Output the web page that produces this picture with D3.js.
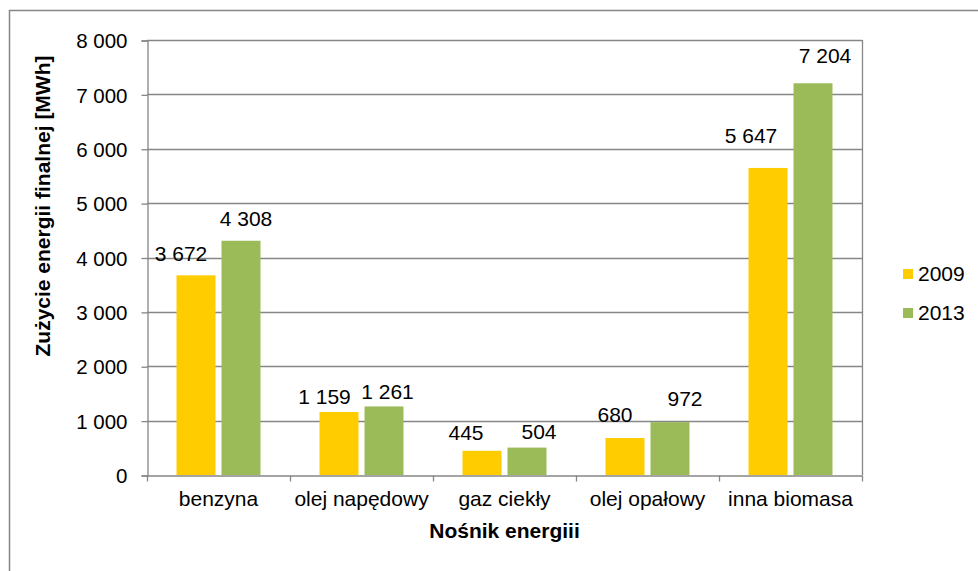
<!DOCTYPE html>
<html>
<head>
<meta charset="utf-8">
<script src="https://cdn.jsdelivr.net/npm/d3@7"></script>
<style>
  body { margin: 0; background: #fff; }
  svg { display: block; font-family: "Liberation Sans", Arial, sans-serif; }
</style>
</head>
<body>
<script>
// chart data
const categories = ["benzyna", "olej napędowy", "gaz ciekły", "olej opałowy", "inna biomasa"];
const seriesNames = ["2009", "2013"];
const values2009 = [3672, 1159, 445, 680, 5647];
const values2013 = [4308, 1261, 504, 972, 7204];
const yTicks = [0, 1000, 2000, 3000, 4000, 5000, 6000, 7000, 8000];

// label nudges as placed in the original (dx from bar centre, gap above bar)
const labelNudge2009 = [[-15, 14], [-14.5, 8], [-16, 11], [-10, 16], [-17, 25]];
const labelNudge2013 = [[5, 15], [3.5, 7], [12, 9], [15, 16], [12, 20]];

const colors = ["#FFCC00", "#9BBB59"];
const gridColor = "#868686";
const fontSize = "21px";

const w = 978;
const h = 571;
const plot = { left: 147, right: 862, top: 40, bottom: 475 };

const fmt = v => d3.format(",")(v).replace(/,/g, " ");

const svg = d3.select("body")
  .append("svg")
  .attr("width", w)
  .attr("height", h);

// outer chart border (runs off the picture at right and bottom)
svg.append("rect")
  .attr("x", 9.5)
  .attr("y", 10.5)
  .attr("width", 1000)
  .attr("height", 600)
  .attr("fill", "none")
  .attr("stroke", gridColor)
  .attr("stroke-width", 1.5);

// scales
const x0 = d3.scaleBand()
  .domain(categories)
  .range([plot.left, plot.right])
  .paddingInner(0)
  .paddingOuter(0);

const x1 = d3.scaleBand()
  .domain(seriesNames)
  .range([29.5, 113.5])
  .paddingInner(6 / 45)
  .paddingOuter(0);

const y = d3.scaleLinear()
  .domain([0, 8000])
  .range([plot.bottom, plot.top]);

// gridlines
svg.append("g")
  .selectAll("line")
  .data(yTicks.slice(1))
  .enter()
  .append("line")
  .attr("x1", plot.left)
  .attr("x2", plot.right)
  .attr("y1", d => Math.round(y(d)) + 0.5)
  .attr("y2", d => Math.round(y(d)) + 0.5)
  .attr("stroke", gridColor)
  .attr("stroke-width", 1.3);

// right border of plot area
svg.append("line")
  .attr("x1", plot.right + 0.5)
  .attr("x2", plot.right + 0.5)
  .attr("y1", plot.top)
  .attr("y2", plot.bottom)
  .attr("stroke", gridColor)
  .attr("stroke-width", 1.3);

// y axis
const yAxis = d3.axisLeft(y)
  .tickValues(yTicks)
  .tickSize(6)
  .tickPadding(14)
  .tickFormat(fmt);

const gy = svg.append("g")
  .attr("transform", `translate(${plot.left + 0.5}, 0.5)`)
  .call(yAxis);
gy.select(".domain").attr("stroke", gridColor).attr("stroke-width", 1.3);
gy.selectAll(".tick line").attr("stroke", gridColor).attr("stroke-width", 1.3);
gy.selectAll(".tick text")
  .attr("fill", "#000")
  .style("font-size", "20.5px")
  .attr("dy", "0.35em");

// x axis with ticks at category boundaries
const xAxis = d3.axisBottom(x0).tickSize(0).tickPadding(16);
const gx = svg.append("g")
  .attr("transform", `translate(0, ${plot.bottom + 0.5})`)
  .call(xAxis);
gx.select(".domain").attr("stroke", gridColor).attr("stroke-width", 1.3);
gx.selectAll(".tick text")
  .attr("fill", "#000")
  .style("font-size", fontSize);

const bounds = categories.map(c => x0(c)).concat([plot.right]);
gx.selectAll(".bound")
  .data(bounds)
  .enter()
  .append("line")
  .attr("class", "bound")
  .attr("x1", d => Math.round(d) + 0.5)
  .attr("x2", d => Math.round(d) + 0.5)
  .attr("y1", 0)
  .attr("y2", 6)
  .attr("stroke", gridColor)
  .attr("stroke-width", 1.3);

// bars
const rows = categories.map((c, i) => ({
  category: c,
  values: [values2009[i], values2013[i]],
  nudges: [labelNudge2009[i], labelNudge2013[i]]
}));

const groups = svg.selectAll(".group")
  .data(rows)
  .enter()
  .append("g")
  .attr("class", "group")
  .attr("transform", d => `translate(${x0(d.category)}, 0)`);

groups.selectAll("rect")
  .data(d => d.values.map((v, k) => ({ key: seriesNames[k], value: v, k: k })))
  .enter()
  .append("rect")
  .attr("x", d => x1(d.key))
  .attr("y", d => y(d.value))
  .attr("width", x1.bandwidth())
  .attr("height", d => y(0) - y(d.value))
  .attr("fill", d => colors[d.k]);

// data labels
groups.selectAll(".label")
  .data(d => d.values.map((v, k) => ({ key: seriesNames[k], value: v, nudge: d.nudges[k] })))
  .enter()
  .append("text")
  .attr("class", "label")
  .attr("x", d => x1(d.key) + x1.bandwidth() / 2 + d.nudge[0])
  .attr("y", d => y(d.value) - d.nudge[1])
  .attr("text-anchor", "middle")
  .style("font-size", fontSize)
  .attr("fill", "#000")
  .text(d => fmt(d.value));

// axis titles
svg.append("text")
  .attr("x", (plot.left + plot.right) / 2)
  .attr("y", 538)
  .attr("text-anchor", "middle")
  .style("font-size", fontSize)
  .style("font-weight", "bold")
  .text("Nośnik energiii");

svg.append("text")
  .attr("transform", "translate(50, 206) rotate(-90)")
  .attr("text-anchor", "middle")
  .style("font-size", fontSize)
  .style("font-weight", "bold")
  .text("Zużycie energii finalnej [MWh]");

// legend
const legend = svg.append("g")
  .selectAll("g")
  .data(seriesNames)
  .enter()
  .append("g")
  .attr("transform", (d, i) => `translate(903, ${269 + i * 39})`);

legend.append("rect")
  .attr("width", 10)
  .attr("height", 10)
  .attr("fill", (d, i) => colors[i]);

legend.append("text")
  .attr("x", 15)
  .attr("y", 12)
  .style("font-size", fontSize)
  .attr("fill", "#000")
  .text(d => d);
</script>
</body>
</html>
